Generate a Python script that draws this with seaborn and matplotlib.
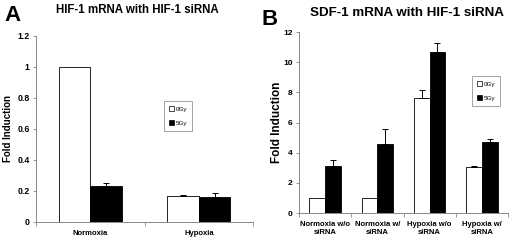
import matplotlib
matplotlib.use('Agg')
import matplotlib.pyplot as plt
from matplotlib.patches import Patch
import pandas as pd
import seaborn as sns

# -------------------------
# Data
# -------------------------
doses = ["0Gy", "5Gy"]

a_conditions = ["Normoxia", "Hypoxia"]
a_0gy = [1.0, 0.17]
a_5gy = [0.23, 0.16]
a_0gy_err = [0.0, 0.006]
a_5gy_err = [0.02, 0.025]

b_conditions = ["Normoxia w/o\nsiRNA", "Normoxia w/\nsiRNA", "Hypoxia w/o\nsiRNA", "Hypoxia w/\nsiRNA"]
b_0gy = [1.0, 1.0, 7.65, 3.02]
b_5gy = [3.15, 4.6, 10.7, 4.68]
b_0gy_err = [0.0, 0.0, 0.5, 0.07]
b_5gy_err = [0.4, 1.0, 0.55, 0.25]


def long_df(conds, v0, v5):
    return pd.DataFrame({
        "Condition": conds * 2,
        "Dose": [doses[0]] * len(conds) + [doses[1]] * len(conds),
        "Fold Induction": v0 + v5,
    })


sns.set_theme(style="white")
plt.rcParams['font.family'] = ['Liberation Sans', 'DejaVu Sans']
plt.rcParams['font.weight'] = 'bold'
plt.rcParams['text.color'] = 'black'
plt.rcParams['axes.labelcolor'] = 'black'
plt.rcParams['xtick.labelcolor'] = 'black'
plt.rcParams['ytick.labelcolor'] = 'black'

fig = plt.figure(figsize=(5.2, 2.41), dpi=100)
axA = fig.add_axes([0.069, 0.079, 0.418, 0.772])
axB = fig.add_axes([0.575, 0.116, 0.402, 0.751])

palette = {"0Gy": "white", "5Gy": "black"}


def panel(ax, conds, v0, v5, e0, e5, width, ymax, yticks, ytl, fs_x, fs_y, fs_lab, leg_box):
    df = long_df(conds, v0, v5)
    sns.barplot(data=df, x="Condition", y="Fold Induction", hue="Dose",
                palette=palette, edgecolor="black", linewidth=0.6,
                width=width, errorbar=None, legend=False, ax=ax)
    # upper-only error bars
    for cont, errs in zip(ax.containers, [e0, e5]):
        for bar, err in zip(cont, errs):
            if err <= 0:
                continue
            xc = bar.get_x() + bar.get_width() / 2
            ax.errorbar(xc, bar.get_height(), yerr=[[0], [err]], fmt="none",
                        ecolor="black", elinewidth=0.7, capsize=2, capthick=0.7)
    ax.set_xlim(-0.5, len(conds) - 0.5)
    ax.set_ylim(0, ymax)
    ax.set_yticks(yticks)
    ax.set_yticklabels(ytl, fontsize=fs_y, fontweight="bold")
    ax.set_xticks(range(len(conds)))
    ax.set_xticklabels(conds, fontsize=fs_x, fontweight="bold")
    ax.set_xticks([i - 0.5 for i in range(len(conds) + 1)], minor=True)
    ax.tick_params(axis="x", which="major", length=0, pad=6)
    ax.tick_params(axis="x", which="minor", length=3, color="#888888", width=0.6, bottom=True)
    ax.tick_params(axis="y", length=2.5, color="#888888", width=0.6, left=True, pad=2)
    ax.set_xlabel("")
    ax.set_ylabel("Fold Induction", fontsize=fs_lab, fontweight="bold")
    sns.despine(ax=ax)
    for s in ["left", "bottom"]:
        ax.spines[s].set_color("#888888")
        ax.spines[s].set_linewidth(0.7)
    handles = [Patch(facecolor=palette[d], edgecolor="black", linewidth=0.5, label=d) for d in doses]
    leg = ax.legend(handles=handles, loc="center", bbox_to_anchor=leg_box,
                    fontsize=4.5, frameon=True, fancybox=False, handlelength=0.7,
                    handleheight=0.7, handletextpad=0.3, labelspacing=1.4,
                    borderpad=0.8, borderaxespad=0)
    leg.get_frame().set_edgecolor("#777777")
    leg.get_frame().set_linewidth(0.6)
    for t in leg.get_texts():
        t.set_fontweight("normal")


panel(axA, a_conditions, a_0gy, a_5gy, a_0gy_err, a_5gy_err, 0.58, 1.2,
      [0, 0.2, 0.4, 0.6, 0.8, 1.0, 1.2], ["0", "0.2", "0.4", "0.6", "0.8", "1", "1.2"],
      5.5, 6.3, 7, (0.655, 0.57))
panel(axB, b_conditions, b_0gy, b_5gy, b_0gy_err, b_5gy_err, 0.6, 12,
      [0, 2, 4, 6, 8, 10, 12], ["0", "2", "4", "6", "8", "10", "12"],
      5.5, 6.0, 8.5, (0.895, 0.675))
axA.yaxis.labelpad = 3
axB.yaxis.labelpad = 0

fig.text(0.265, 0.958, "HIF-1 mRNA with HIF-1 siRNA", ha="center", va="center",
         fontsize=8.3, fontweight="bold")
fig.text(0.783, 0.945, "SDF-1 mRNA with HIF-1 siRNA", ha="center", va="center",
         fontsize=9.6, fontweight="bold")
fig.text(0.008, 0.935, "A", ha="left", va="center", fontsize=16, fontweight="bold")
fig.text(0.503, 0.92, "B", ha="left", va="center", fontsize=16, fontweight="bold")

fig.savefig("out.png", dpi=100)
plt.close(fig)
